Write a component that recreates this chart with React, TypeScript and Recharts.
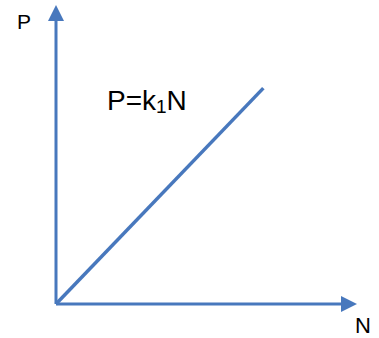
import { LineChart, Line, XAxis, YAxis, ReferenceDot, ReferenceLine } from 'recharts';

// N on the x axis, P on the y axis
const nValues = [0, 7.25];
const pValues = [0, 7.6];
const nMax = 10;
const pMax = 10;

const data = nValues.map((n, i) => ({ N: n, P: pValues[i] }));

const blue = '#4878BD';

const ArrowUp = (props: any) => {
  const { cx, cy } = props;
  return <path d={`M${cx - 8},${cy + 1} L${cx + 8},${cy + 1} L${cx},${cy - 15} Z`} fill={blue} />;
};

const ArrowRight = (props: any) => {
  const { cx, cy } = props;
  return <path d={`M${cx - 1},${cy - 8} L${cx - 1},${cy + 8} L${cx + 15},${cy} Z`} fill={blue} />;
};

function App() {
  return (
    <div style={{ position: 'absolute', left: 0, top: 0, width: 379, height: 338, background: '#fff' }}>
      <LineChart
        width={379}
        height={338}
        data={data}
        margin={{ top: 20, right: 37, left: 56, bottom: 34 }}
      >
        <XAxis type="number" dataKey="N" domain={[0, nMax]} hide />
        <YAxis type="number" domain={[0, pMax]} hide />
        <ReferenceLine
          segment={[{ x: 0, y: 0 }, { x: nMax, y: 0 }]}
          stroke={blue}
          strokeWidth={3}
          ifOverflow="visible"
        />
        <ReferenceLine
          segment={[{ x: 0, y: 0 }, { x: 0, y: pMax }]}
          stroke={blue}
          strokeWidth={3}
          ifOverflow="visible"
        />
        <Line
          type="linear"
          dataKey="P"
          stroke={blue}
          strokeWidth={3.5}
          dot={false}
          isAnimationActive={false}
        />
        <ReferenceDot x={0} y={pMax} shape={ArrowUp} ifOverflow="visible" />
        <ReferenceDot x={nMax} y={0} shape={ArrowRight} ifOverflow="visible" />
      </LineChart>
      <svg
        width={379}
        height={338}
        style={{ position: 'absolute', left: 0, top: 0, pointerEvents: 'none' }}
        fontFamily="'Liberation Sans', Arial, sans-serif"
      >
        <text x={17} y={29} fontSize={21} fill="#000">P</text>
        <text x={355} y={333} fontSize={22} fill="#000">N</text>
        <text x={107} y={110} fontSize={28} fill="#000">
          P=k<tspan fontSize={19} dy={3}>1</tspan><tspan dy={-3}>N</tspan>
        </text>
      </svg>
    </div>
  );
}

export default App;
